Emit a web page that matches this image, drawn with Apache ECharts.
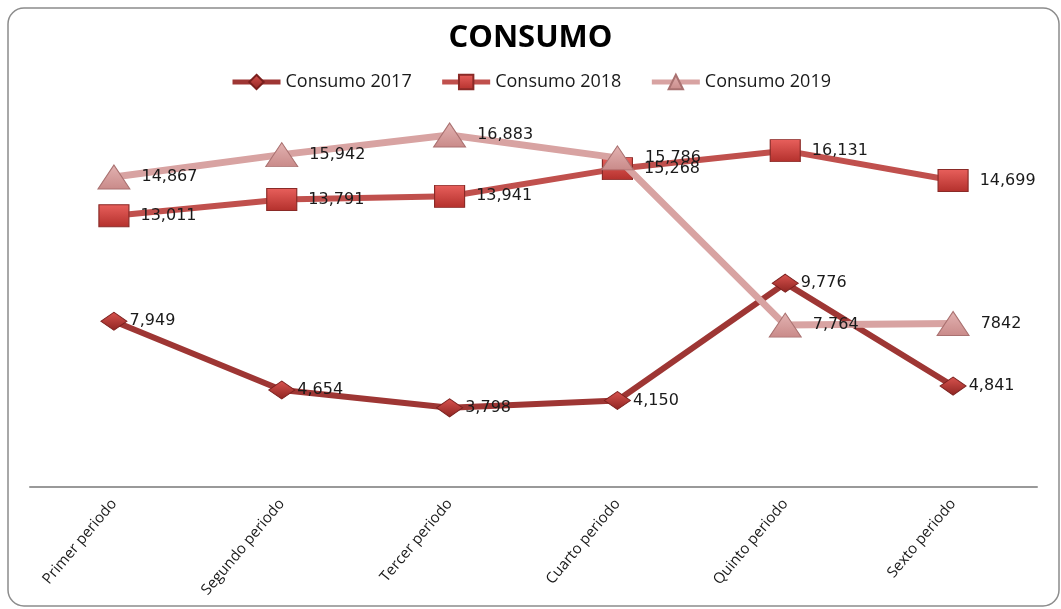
<!DOCTYPE html>
<html>
<head>
<meta charset="utf-8">
<title>CONSUMO</title>
<script src="https://cdn.jsdelivr.net/npm/echarts@6/dist/echarts.min.js"></script>
<style>
  html, body { margin: 0; padding: 0; background: #fff; }
  #chart { width: 1061px; height: 609px; }
</style>
</head>
<body>
<div id="chart"></div>
<script>
// datos
var periodos = ["Primer periodo", "Segundo periodo", "Tercer periodo", "Cuarto periodo", "Quinto periodo", "Sexto periodo"];
var consumo2017 = [7949, 4654, 3798, 4150, 9776, 4841];
var consumo2018 = [13011, 13791, 13941, 15268, 16131, 14699];
var consumo2019 = [14867, 15942, 16883, 15786, 7764, 7842];
// el ultimo valor de 2019 aparece sin separador de miles
var sinComa2019 = [false, false, false, false, false, true];

var chart = echarts.init(document.getElementById("chart"));

function fmt(v) {
  return v.toLocaleString("en-US");
}

// relleno con brillo para dar efecto 3D a los marcadores
function grad(top, bottom) {
  return new echarts.graphic.LinearGradient(0, 0, 0, 1, [
    { offset: 0, color: top },
    { offset: 1, color: bottom }
  ]);
}

var labelStyle = {
  show: true,
  position: "right",
  color: "#1a1a1a",
  fontFamily: "DejaVu Sans",
  fontSize: 16
};

var option = {
  backgroundColor: "#fff",
  animation: false,
  title: {
    text: "CONSUMO",
    left: "center",
    top: 18,
    textStyle: {
      fontFamily: "Open Sans",
      fontWeight: "bold",
      fontSize: 31,
      color: "#000"
    }
  },
  legend: {
    top: 68,
    left: "center",
    itemWidth: 48,
    itemHeight: 18,
    itemGap: 28,
    lineStyle: { width: 5 },
    textStyle: {
      fontFamily: "Open Sans",
      fontSize: 18,
      color: "#1a1a1a"
    },
    data: ["Consumo 2017", "Consumo 2018", "Consumo 2019"]
  },
  graphic: [
    {
      type: "rect",
      shape: { x: 8, y: 8, width: 1051, height: 598, r: 16 },
      style: { fill: "none", stroke: "#8c8c8c", lineWidth: 1.5 },
      silent: true,
      z: -1
    }
  ],
  grid: {
    left: 30,
    right: 24,
    top: 70,
    bottom: 122
  },
  xAxis: {
    type: "category",
    data: periodos,
    boundaryGap: true,
    axisTick: { show: false },
    axisLine: { lineStyle: { color: "#999", width: 2 } },
    axisLabel: {
      rotate: 50,
      margin: 14,
      color: "#1a1a1a",
      fontFamily: "Open Sans",
      fontSize: 15
    }
  },
  yAxis: {
    type: "value",
    min: 0,
    max: 20000,
    show: false,
    splitLine: { show: false }
  },
  series: [
    {
      name: "Consumo 2017",
      type: "line",
      data: consumo2017,
      z: 4,
      symbol: "diamond",
      symbolSize: [26, 18],
      lineStyle: { color: "#9e3634", width: 6 },
      itemStyle: {
        color: grad("#d9534f", "#8e2421"),
        borderColor: "#7a1f1d",
        borderWidth: 1
      },
      label: Object.assign({}, labelStyle, {
        distance: 2,
        formatter: function (p) { return fmt(p.value); }
      })
    },
    {
      name: "Consumo 2018",
      type: "line",
      data: consumo2018,
      z: 2,
      symbol: "rect",
      symbolSize: [30, 22],
      lineStyle: { color: "#c0504d", width: 6 },
      itemStyle: {
        color: grad("#e8605c", "#b3302c"),
        borderColor: "#8a2a27",
        borderWidth: 1
      },
      label: Object.assign({}, labelStyle, {
        distance: 11,
        formatter: function (p) { return fmt(p.value); }
      })
    },
    {
      name: "Consumo 2019",
      type: "line",
      data: consumo2019,
      z: 5,
      symbol: "triangle",
      symbolSize: [32, 24],
      lineStyle: { color: "#d8a3a2", width: 7 },
      itemStyle: {
        color: grad("#e3b3b2", "#c98a89"),
        borderColor: "#a97170",
        borderWidth: 1
      },
      label: Object.assign({}, labelStyle, {
        distance: 11,
        formatter: function (p) {
          return sinComa2019[p.dataIndex] ? String(p.value) : fmt(p.value);
        }
      })
    }
  ]
};

chart.setOption(option);
</script>
</body>
</html>
